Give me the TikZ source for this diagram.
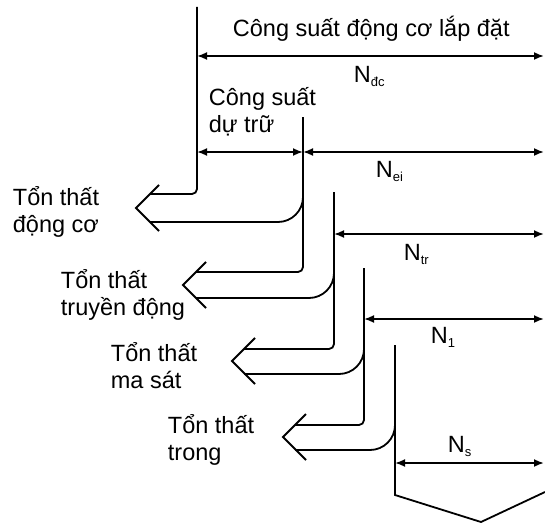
\documentclass[tikz,border=0pt]{standalone}
\usepackage{fontspec}
\setmainfont{Liberation Sans}
\usetikzlibrary{arrows.meta}

\newcommand{\Nsub}[1]{N\raisebox{-4pt}{\fontsize{13}{13}\selectfont #1}}

\begin{document}
\begin{tikzpicture}[x=1pt,y=-1pt,line width=1.8pt,
    dim/.style={{Latex[length=10pt,width=8pt]}-{Latex[length=10pt,width=8pt]}},
    lbl/.style={align=left,anchor=base west,inner sep=0pt,
      font=\fontsize{23.5}{27}\selectfont},
    val/.style={anchor=base west,inner sep=0pt,
      font=\fontsize{23.5}{27}\selectfont}]
  \useasboundingbox (0,0) rectangle (545,524);
  % power lines
  \coordinate (l0) at (197,7);
  \coordinate (l1) at (303,117);
  \coordinate (l2) at (334,192);
  \coordinate (l3) at (364,268);
  \coordinate (l4) at (395,345);
  \coordinate (r) at (544,0);
  % loss arrows
  \coordinate (p1) at (136,208);
  \coordinate (a1) at (159,185);
  \coordinate (b1) at (159,231);
  \coordinate (u1) at (150,194);
  \coordinate (w1) at (150,222);
  \coordinate (c1) at (303,197);
  \coordinate (p2) at (183,285);
  \coordinate (a2) at (206,262);
  \coordinate (b2) at (206,308);
  \coordinate (u2) at (196,272);
  \coordinate (w2) at (196,298);
  \coordinate (c2) at (334,274);
  \coordinate (p3) at (232,361);
  \coordinate (a3) at (255,338);
  \coordinate (b3) at (255,384);
  \coordinate (u3) at (244,349);
  \coordinate (w3) at (244,374);
  \coordinate (c3) at (364,350);
  \coordinate (p4) at (283,437);
  \coordinate (a4) at (306,414);
  \coordinate (b4) at (306,460);
  \coordinate (u4) at (295,425);
  \coordinate (w4) at (295,450);
  \coordinate (c4) at (395,425);
  % bottom
  \coordinate (e4) at (395,495);
  \coordinate (v) at (481,522);
  \coordinate (e5) at (545,492);
  % dimension ends
  \coordinate (n0) at (197,56);
  \coordinate (n1) at (197,152);
  \coordinate (n2) at (303,152);
  \coordinate (n3) at (334,234);
  \coordinate (n4) at (364,319);
  \coordinate (n5) at (395,463);

  \begin{scope}[rounded corners=5pt]
    \draw (l0) |- (u1);
    \draw (l1) |- (u2);
    \draw (l2) |- (u3);
    \draw (l3) |- (u4);
  \end{scope}
  \begin{scope}[rounded corners=25pt]
    \draw (c1) |- (w1);
    \draw (c2) |- (w2);
    \draw (c3) |- (w3);
    \draw (c4) |- (w4);
  \end{scope}
  \draw (l4) -- (e4) -- (v) -- (e5);
  \draw (a1) -- (p1) -- (b1);
  \draw (a2) -- (p2) -- (b2);
  \draw (a3) -- (p3) -- (b3);
  \draw (a4) -- (p4) -- (b4);

  \begin{scope}[dim]
    \draw (n0) -- (n0 -| r);
    \draw (n1) -- (n2);
    \draw (n2) -- (n2 -| r);
    \draw (n3) -- (n3 -| r);
    \draw (n4) -- (n4 -| r);
    \draw (n5) -- (n5 -| r);
  \end{scope}

  % two-line labels sit on the baseline of their last line
  \node[lbl] (title) at (232,37) {Công suất động cơ lắp đặt};
  \node[val] (ndc) at (353,83) {\Nsub{đc}};
  \node[lbl] (rsv) at (208,132) {Công suất\\dự trữ};
  \node[val] (nei) at (375,177) {\Nsub{ei}};
  \node[val] (ntr) at (403,260) {\Nsub{tr}};
  \node[val] (n1) at (430,343) {\Nsub{1}};
  \node[val] (ns) at (447,452) {\Nsub{s}};
  \node[lbl] (ls1) at (12,232) {Tổn thất\\động cơ};
  \node[lbl] (ls2) at (60,315) {Tổn thất\\truyền động};
  \node[lbl] (ls3) at (110,388) {Tổn thất\\ma sát};
  \node[lbl] (ls4) at (167,460) {Tổn thất\\trong};
\end{tikzpicture}
\end{document}
